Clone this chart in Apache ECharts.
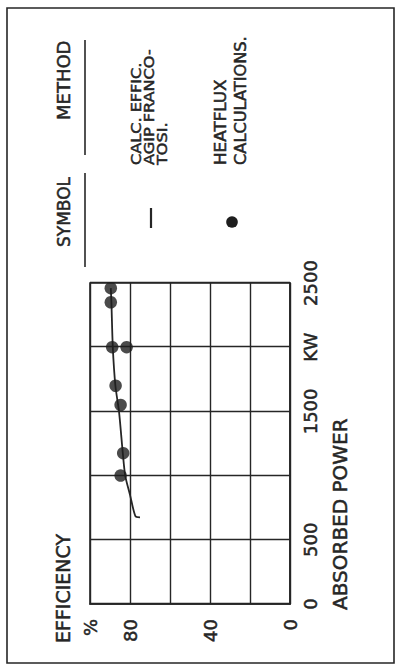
<!DOCTYPE html>
<html>
<head>
<meta charset="utf-8">
<script src="https://cdn.jsdelivr.net/npm/echarts@6/dist/echarts.min.js"></script>
<style>
  html, body { margin: 0; padding: 0; background: #fff; width: 396px; height: 665px; overflow: hidden; }
  /* the chart is laid out landscape and turned a quarter turn counter-clockwise */
  #chart {
    position: absolute; left: 0; top: 0;
    width: 665px; height: 396px;
    transform-origin: 0 0;
    transform: translate(0, 665px) rotate(-90deg);
  }
</style>
</head>
<body>
<div id="chart"></div>
<script>
// Absorbed power (kW) axis
const powerTicks = [0, 500, 1000, 1500, 2000, 2500];
const powerTickLabels = ['0', '500', '', '1500', 'KW', '2500'];

// Efficiency (%) axis
const effTicks = [0, 20, 40, 60, 80, 100];
const effTickLabels = ['0', '', '40', '', '80', '%'];

// Calculated efficiency curve (AGIP Franco-Tosi)
const calcPower = [2460, 2350, 2000, 1700, 1500, 1175, 1000, 850, 685, 675];
const calcEff   = [89.6, 89.3, 88.6, 87.3, 85.5, 83.6, 82.4, 80.0, 77.3, 75.0];

// Heat-flux calculations
const heatPower = [2460, 2350, 2000, 2000, 1700, 1550, 1175, 1000];
const heatEff   = [89.6, 89.6, 88.9, 81.7, 87.2, 84.7, 83.4, 84.7];

const ink = '#262626';
const family = "'DejaVu Sans', sans-serif";

const chart = echarts.init(document.getElementById('chart'), null, { renderer: 'svg' });

const tickText = (ticks, labels) => v => {
  const i = ticks.indexOf(v);
  return i < 0 ? '' : labels[i];
};

// lettering with a thin outline in the same ink for a pen-drawn weight
const label = (x, y, text, size, stretch) => ({
  type: 'text', x, y, scaleX: stretch || 1,
  style: {
    text, font: size + 'px ' + family, fill: ink,
    stroke: ink, lineWidth: 0.5,
    align: 'left', verticalAlign: 'middle'
  }
});

const axisLabelStyle = {
  color: ink, fontFamily: family, fontSize: 18,
  textBorderColor: ink, textBorderWidth: 0.5
};

chart.setOption({
  animation: false,
  backgroundColor: '#fff',
  grid: {
    left: 61, right: 283, top: 90, bottom: 106,
    show: true, borderColor: ink, borderWidth: 1.6, backgroundColor: 'transparent'
  },
  xAxis: {
    type: 'value', min: 0, max: 2500, interval: 500,
    axisLine: { show: true, lineStyle: { color: ink, width: 1.6 } },
    axisTick: { show: false },
    splitLine: { show: true, lineStyle: { color: ink, width: 1.4 } },
    axisLabel: Object.assign({ margin: 11, formatter: tickText(powerTicks, powerTickLabels) }, axisLabelStyle)
  },
  yAxis: {
    type: 'value', min: 0, max: 100, interval: 20,
    axisLine: { show: true, lineStyle: { color: ink, width: 1.6 } },
    axisTick: { show: false },
    splitLine: { show: true, lineStyle: { color: ink, width: 1.4 } },
    axisLabel: Object.assign({ margin: 15, formatter: tickText(effTicks, effTickLabels) }, axisLabelStyle)
  },
  series: [
    {
      name: 'CALC. EFFIC. AGIP FRANCO-TOSI.',
      type: 'line',
      data: calcPower.map((p, i) => [p, calcEff[i]]),
      symbol: 'none',
      smooth: 0.25,
      lineStyle: { color: ink, width: 1.8 },
      z: 3
    },
    {
      name: 'HEATFLUX CALCULATIONS.',
      type: 'scatter',
      data: heatPower.map((p, i) => [p, heatEff[i]]),
      symbol: 'circle',
      symbolSize: 12.5,
      itemStyle: { color: '#1e1e1e' },
      z: 4
    }
  ],
  graphic: [
    // outer border
    { type: 'rect', shape: { x: 2, y: 7, width: 655, height: 387 },
      style: { fill: 'none', stroke: ink, lineWidth: 1.6 } },
    // axis titles
    label(22, 63, 'EFFICIENCY', 19),
    label(55, 340, 'ABSORBED POWER', 20),
    // key headings
    label(418, 64, 'SYMBOL', 17),
    { type: 'line', shape: { x1: 398, y1: 85, x2: 492, y2: 85 }, style: { stroke: ink, lineWidth: 1.6 } },
    label(545, 64, 'METHOD', 17, 1.06),
    { type: 'line', shape: { x1: 510, y1: 85, x2: 625, y2: 85 }, style: { stroke: ink, lineWidth: 1.6 } },
    // key entries
    { type: 'line', shape: { x1: 437, y1: 151, x2: 457, y2: 151 }, style: { stroke: ink, lineWidth: 2.2 } },
    label(500, 136, 'CALC. EFFIC.', 14, 1.15),
    label(500, 149, 'AGIP FRANCO-', 14, 1.15),
    label(500, 162, 'TOSI.', 14, 1.15),
    { type: 'circle', shape: { cx: 443, cy: 232, r: 5.8 }, style: { fill: '#1e1e1e' } },
    label(500, 221, 'HEATFLUX', 15, 1.12),
    label(500, 241, 'CALCULATIONS.', 15, 1.08)
  ]
});
</script>
</body>
</html>
